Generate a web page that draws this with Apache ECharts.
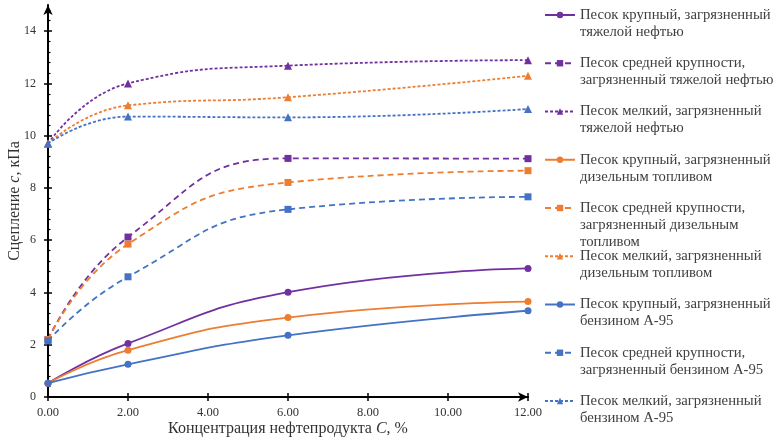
<!DOCTYPE html>
<html>
<head>
<meta charset="utf-8">
<script src="https://cdn.jsdelivr.net/npm/echarts@6/dist/echarts.min.js"></script>
<style>html,body{margin:0;padding:0;background:#fff;}#chart{width:774px;height:438px;}</style>
</head>
<body>
<div id="chart"></div>
<script>
// ---- data ----
const xValues = [0, 2, 6, 12];
const coarseHeavy  = [0.53, 2.05, 4.01, 4.92];
const mediumHeavy  = [2.20, 6.12, 9.13, 9.12];
const fineHeavy    = [9.70, 12.00, 12.68, 12.89];
const coarseDiesel = [0.53, 1.79, 3.04, 3.65];
const mediumDiesel = [2.20, 5.85, 8.21, 8.66];
const fineDiesel   = [9.70, 11.16, 11.47, 12.29];
const coarsePetrol = [0.53, 1.25, 2.36, 3.30];
const mediumPetrol = [2.15, 4.60, 7.18, 7.66];
const finePetrol   = [9.70, 10.73, 10.70, 11.02];

const seriesNames = [
  'Песок крупный, загрязненный тяжелой нефтью',
  'Песок средней крупности, загрязненный тяжелой нефтью',
  'Песок мелкий, загрязненный тяжелой нефтью',
  'Песок крупный, загрязненный дизельным топливом',
  'Песок средней крупности, загрязненный дизельным топливом',
  'Песок мелкий, загрязненный дизельным топливом',
  'Песок крупный, загрязненный бензином А-95',
  'Песок средней крупности, загрязненный бензином А-95',
  'Песок мелкий, загрязненный бензином А-95'
];
const legendLines = [
  ['Песок крупный, загрязненный', 'тяжелой нефтью'],
  ['Песок средней крупности,', 'загрязненный тяжелой нефтью'],
  ['Песок мелкий, загрязненный', 'тяжелой нефтью'],
  ['Песок крупный, загрязненный', 'дизельным топливом'],
  ['Песок средней крупности,', 'загрязненный дизельным', 'топливом'],
  ['Песок мелкий, загрязненный', 'дизельным топливом'],
  ['Песок крупный, загрязненный', 'бензином А-95'],
  ['Песок средней крупности,', 'загрязненный бензином А-95'],
  ['Песок мелкий, загрязненный', 'бензином А-95']
];
const seriesValues = [coarseHeavy, mediumHeavy, fineHeavy, coarseDiesel, mediumDiesel, fineDiesel, coarsePetrol, mediumPetrol, finePetrol];
const yMajorTicks = [0, 2, 4, 6, 8, 10, 12, 14];
const yMinorTicks = [];
for (let v = 0.4; v < 15; v += 0.4) { const r = Math.round(v * 10) / 10; if (Math.abs(r / 2 - Math.round(r / 2)) > 1e-6) yMinorTicks.push(r); }

// ---- styles ----
const PURPLE = '#7030A0', ORANGE = '#ED7D31', BLUE = '#4472C4';
const colors = [PURPLE, PURPLE, PURPLE, ORANGE, ORANGE, ORANGE, BLUE, BLUE, BLUE];
const kinds = ['coarse', 'medium', 'fine'];
const FONT = 'Liberation Serif';

const series = seriesValues.map((vals, i) => {
  const kind = kinds[i % 3];
  let symbol = 'circle', symbolSize = 7, type = 'solid';
  if (kind === 'medium') { symbol = 'rect'; symbolSize = 7; type = [6, 4]; }
  if (kind === 'fine') { symbol = 'triangle'; symbolSize = 8; type = [3, 2]; }
  return {
    name: seriesNames[i],
    type: 'line',
    smooth: 0.5,
    data: xValues.map((x, j) => [x, vals[j]]),
    symbol, symbolSize,
    showSymbol: true,
    itemStyle: { color: colors[i] },
    lineStyle: { color: colors[i], width: 1.8, type },
    z: 2 + i
  };
});

const LH = 17;
const legends = legendLines.map((lines, i) => {
  const blanks = lines.length - 1;
  const all = [];
  for (let b = 0; b < blanks; b++) all.push(' ');
  const text = all.concat(lines).join('\n');
  const total = blanks + lines.length;
  const iconY = 15 + 48.25 * i;
  return {
    data: [seriesNames[i]],
    left: 544,
    top: iconY - total * LH / 2,
    orient: 'vertical',
    padding: 0,
    itemWidth: 30,
    itemHeight: 8,
    selectedMode: false,
    formatter: () => text,
    textStyle: { fontFamily: FONT, fontSize: 14.7, lineHeight: LH, color: '#404040' }
  };
});

const tickStyle = { color: '#000', width: 1.5 };
const option = {
  animation: false,
  backgroundColor: '#fff',
  grid: { left: 48, right: 246, top: 5, bottom: 41, containLabel: false, outerBoundsMode: 'none' },
  legend: legends,
  xAxis: [
    {
      type: 'value', min: 0, max: 12, interval: 2,
      name: 'Концентрация нефтепродукта {i|C}, %',
      nameLocation: 'middle', nameGap: 24, nameMoveOverlap: false,
      nameTextStyle: { fontFamily: FONT, fontSize: 16, color: '#333',
        rich: { i: { fontFamily: FONT, fontSize: 16, fontStyle: 'italic', color: '#333' } } },
      axisLine: { lineStyle: { color: '#000', width: 2 }, symbol: ['none', 'arrow'], symbolSize: [7, 10] },
      axisTick: { inside: false, length: 4, lineStyle: tickStyle },
      axisLabel: { formatter: v => v.toFixed(2), fontFamily: FONT, fontSize: 12.5, color: '#333', margin: 9 },
      splitLine: { show: false }
    },
    {
      type: 'value', min: 0, max: 12, interval: 2, position: 'bottom',
      axisLine: { show: false },
      axisTick: { inside: true, length: 4, lineStyle: tickStyle },
      axisLabel: { show: false },
      splitLine: { show: false }
    }
  ],
  yAxis: [
    {
      type: 'value', min: 0, max: 15,
      name: 'Сцепление {i|c}, кПа',
      nameLocation: 'middle', nameGap: 25, nameRotate: 90, nameMoveOverlap: false,
      nameTextStyle: { fontFamily: FONT, fontSize: 16, color: '#333',
        rich: { i: { fontFamily: FONT, fontSize: 16, fontStyle: 'italic', color: '#333' } } },
      axisLine: { lineStyle: { color: '#000', width: 2 }, symbol: ['none', 'arrow'], symbolSize: [7, 10] },
      axisTick: { inside: false, length: 4, lineStyle: tickStyle, customValues: yMajorTicks },
      axisLabel: { fontFamily: FONT, fontSize: 12, color: '#333', margin: 12, customValues: yMajorTicks },
      splitLine: { show: false }
    },
    {
      type: 'value', min: 0, max: 15, position: 'left',
      axisLine: { show: false },
      axisTick: { inside: true, length: 4, lineStyle: tickStyle, customValues: yMajorTicks },
      axisLabel: { show: false },
      splitLine: { show: false }
    },
    {
      type: 'value', min: 0, max: 15, position: 'left',
      axisLine: { show: false },
      axisTick: { inside: true, length: 2.5, lineStyle: { color: '#000', width: 1.2 }, customValues: yMinorTicks },
      axisLabel: { show: false },
      splitLine: { show: false }
    }
  ],
  series
};

const chart = echarts.init(document.getElementById('chart'), null, { renderer: 'canvas' });
chart.setOption(option);
</script>
</body>
</html>
